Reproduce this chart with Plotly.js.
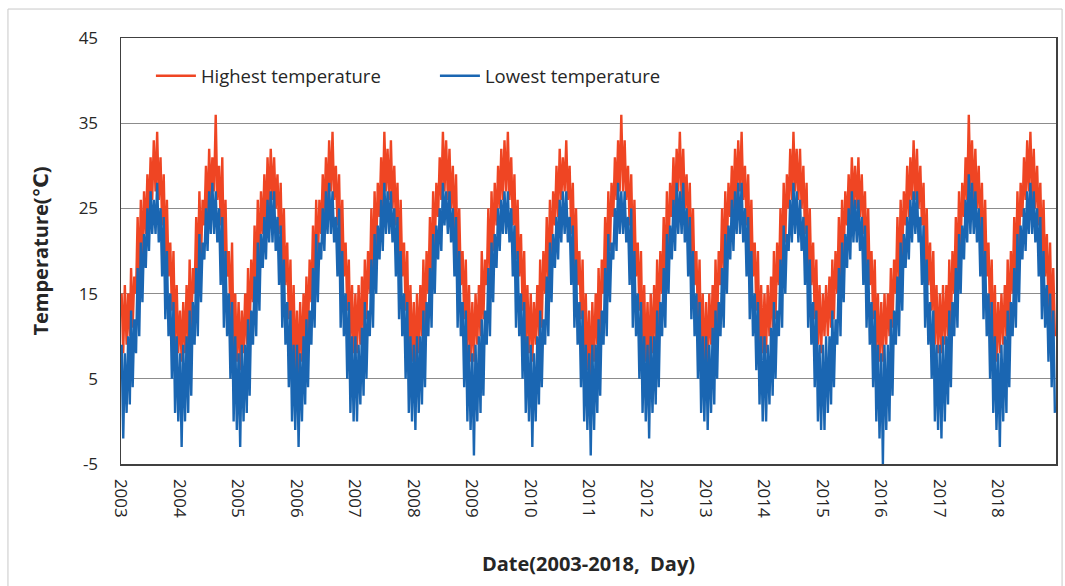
<!DOCTYPE html>
<html>
<head>
<meta charset="utf-8">
<script src="https://cdn.plot.ly/plotly-3.0.1.min.js"></script>
<style>html,body{margin:0;padding:0;background:#fff;}#chart{width:1065px;height:586px;}</style>
</head>
<body>
<div id="chart"></div>
<script>
// Years on the axis and sample days within each month (3 samples per month)
const years = [2003,2004,2005,2006,2007,2008,2009,2010,2011,2012,2013,2014,2015,2016,2017,2018];
const sampleDays = [5,15,25];
const tickYears = ["2003","2004","2005","2006","2007","2008","2009","2010","2011","2012","2013","2014","2015","2016","2017","2018"];

// Highest temperature (°C), 36 readings per year (Jan..Dec, 3 per month)
const high2003 = [15,8,16, 9,15,10, 18,11,17, 15,24,16, 26,19,27, 22,29,24, 31,26,33, 27,34,26, 31,23,29, 19,26,17, 21,13,20, 9,16,8];
const high2004 = [13,7,14, 8,16,9, 19,10,18, 15,24,17, 27,19,26, 23,30,24, 32,26,31, 27,36,26, 30,23,31, 18,26,17, 20,12,21, 8,15,7];
const high2005 = [14,6,13, 8,15,9, 18,10,19, 14,23,16, 26,18,27, 22,29,23, 31,25,32, 26,31,25, 29,22,28, 18,25,16, 21,12,19, 7,16,6];
const high2006 = [13,5,14, 7,15,9, 17,10,19, 14,23,16, 26,18,26, 22,29,24, 31,25,33, 27,34,26, 30,23,29, 19,26,17, 21,13,19, 9,16,8];
const high2007 = [15,8,16, 9,17,10, 19,12,20, 15,25,17, 27,20,28, 24,31,25, 34,27,32, 26,33,25, 30,23,28, 18,26,17, 21,13,20, 8,16,7];
const high2008 = [14,6,15, 8,16,10, 19,11,20, 15,24,17, 27,20,28, 24,31,26, 34,27,33, 26,32,25, 30,22,29, 18,25,16, 20,12,19, 8,16,7];
const high2009 = [14,7,15, 9,16,10, 20,12,19, 16,25,17, 27,20,28, 23,30,25, 32,26,33, 27,34,26, 31,23,29, 19,26,17, 22,13,20, 9,16,8];
const high2010 = [15,7,14, 9,16,10, 19,11,20, 15,24,16, 26,19,27, 23,30,24, 32,26,31, 27,33,26, 30,22,28, 18,25,16, 20,12,19, 7,15,6];
const high2011 = [13,4,14, 7,15,9, 18,10,19, 15,24,17, 27,20,28, 24,31,26, 33,27,36, 27,33,26, 30,23,29, 19,26,17, 21,13,20, 8,16,7];
const high2012 = [14,6,15, 8,16,9, 19,11,20, 15,24,16, 27,19,28, 24,31,25, 32,27,34, 26,32,25, 29,22,28, 18,25,16, 20,12,19, 7,15,6];
const high2013 = [14,6,15, 9,16,10, 19,11,20, 16,25,17, 27,20,28, 24,30,25, 32,26,33, 27,34,26, 30,23,29, 19,26,17, 21,13,20, 8,16,8];
const high2014 = [15,8,16, 10,17,11, 20,12,21, 16,25,18, 28,21,29, 25,32,26, 34,27,32, 26,32,25, 30,22,28, 18,25,16, 21,12,19, 9,16,8];
const high2015 = [15,10,16, 10,17,11, 19,12,20, 15,24,17, 26,19,27, 23,29,24, 31,25,30, 25,31,24, 29,22,27, 18,25,16, 20,12,19, 8,15,7];
const high2016 = [14,7,15, 9,15,10, 18,11,19, 15,24,16, 26,19,27, 23,30,24, 31,26,33, 26,32,25, 30,23,28, 18,25,16, 21,13,20, 9,16,8];
const high2017 = [15,8,16, 9,16,10, 19,11,20, 15,24,17, 27,20,28, 24,31,26, 36,27,33, 26,32,25, 30,22,28, 18,26,17, 21,12,19, 8,16,7];
const high2018 = [14,8,15, 9,16,10, 19,11,20, 15,24,17, 27,20,28, 24,31,26, 33,27,34, 26,32,25, 30,23,28, 19,26,17, 22,13,21, 11,18,10];

// Lowest temperature (°C), 36 readings per year (Jan..Dec, 3 per month)
const low2003 = [9,-2,8, 1,10,2, 13,4,12, 8,18,10, 21,14,22, 18,25,20, 27,22,26, 22,28,21, 25,17,24, 12,20,10, 15,5,14, 1,10,0];
const low2004 = [8,-3,9, 0,10,1, 13,3,14, 9,18,10, 22,14,21, 19,25,20, 27,22,28, 22,27,21, 25,16,24, 11,20,10, 15,5,14, 0,10,-1];
const low2005 = [8,-3,9, 0,9,1, 12,3,13, 9,17,10, 21,13,22, 18,24,19, 26,21,27, 21,27,20, 24,16,23, 11,19,9, 14,4,13, 0,9,-1];
const low2006 = [9,-3,8, 0,10,2, 12,4,13, 9,18,11, 22,14,21, 19,25,20, 27,22,28, 22,27,21, 24,17,25, 11,20,10, 15,5,14, 1,10,0];
const low2007 = [10,0,9, 2,11,3, 14,5,13, 10,19,11, 22,15,23, 19,26,20, 28,22,27, 22,27,21, 25,17,24, 12,20,10, 15,5,14, 1,10,0];
const low2008 = [9,-1,10, 1,10,2, 13,4,14, 10,18,11, 22,15,23, 19,25,20, 28,23,27, 22,27,21, 25,17,24, 11,20,10, 14,4,13, 0,9,-1];
const low2009 = [8,-4,9, 0,10,1, 12,3,13, 9,18,10, 21,14,22, 18,25,20, 26,22,27, 22,27,21, 25,17,23, 11,20,10, 15,5,14, 1,10,0];
const low2010 = [9,-3,8, 0,10,2, 13,4,12, 9,17,10, 21,14,22, 18,24,19, 26,21,27, 22,27,21, 24,16,23, 11,19,9, 14,4,13, 0,9,-1];
const low2011 = [8,-4,9, -1,9,1, 12,3,13, 9,18,10, 22,14,21, 19,25,20, 28,22,27, 22,27,21, 24,16,25, 11,20,10, 15,5,14, 1,10,0];
const low2012 = [9,-2,10, 1,10,2, 13,4,14, 10,18,11, 22,15,23, 19,26,20, 28,22,27, 22,28,21, 25,17,24, 12,20,10, 15,5,14, 1,10,0];
const low2013 = [10,-1,9, 1,11,2, 13,5,14, 10,18,11, 22,15,23, 19,26,20, 27,22,28, 22,28,21, 25,17,24, 12,20,10, 15,6,14, 2,10,0];
const low2014 = [10,0,9, 2,11,3, 14,5,13, 10,19,11, 23,15,22, 20,26,21, 28,22,27, 21,26,20, 24,16,23, 11,19,9, 14,4,13, 0,9,-1];
const low2015 = [9,-1,10, 1,10,2, 13,4,12, 9,18,10, 21,14,22, 18,25,19, 27,21,26, 21,26,20, 24,16,23, 11,19,9, 14,4,13, 0,9,-2];
const low2016 = [8,-5,9, -1,9,0, 12,3,13, 9,17,10, 21,13,22, 18,24,19, 26,21,27, 22,27,21, 24,16,23, 11,19,9, 14,5,13, 0,9,-1];
const low2017 = [9,-2,10, 0,10,2, 13,4,14, 10,18,11, 22,15,23, 19,26,21, 29,22,28, 22,27,21, 25,17,24, 12,20,10, 15,5,14, 1,10,-1];
const low2018 = [8,-3,9, 0,10,1, 13,4,14, 10,18,11, 22,14,23, 19,25,20, 27,22,28, 22,27,21, 25,17,24, 12,20,11, 16,7,15, 4,13,1];

const highByYear = [high2003,high2004,high2005,high2006,high2007,high2008,high2009,high2010,high2011,high2012,high2013,high2014,high2015,high2016,high2017,high2018];
const lowByYear = [low2003,low2004,low2005,low2006,low2007,low2008,low2009,low2010,low2011,low2012,low2013,low2014,low2015,low2016,low2017,low2018];

const dates = [], highVals = [], lowVals = [];
years.forEach((yr, yi) => {
  for (let m = 1; m <= 12; m++) {
    sampleDays.forEach((d, di) => {
      const idx = (m - 1) * 3 + di;
      dates.push(yr + '-' + String(m).padStart(2,'0') + '-' + String(d).padStart(2,'0'));
      highVals.push(highByYear[yi][idx]);
      lowVals.push(lowByYear[yi][idx]);
    });
  }
});

const FONT = '"Open Sans", Lato, "DejaVu Sans", sans-serif';

const traces = [
  {x: dates, y: highVals, type: 'scatter', mode: 'lines', name: 'Highest temperature',
   line: {color: '#EF4523', width: 2.4}},
  {x: dates, y: lowVals, type: 'scatter', mode: 'lines', name: 'Lowest temperature',
   line: {color: '#1A66B2', width: 2.4}}
];

const layout = {
  width: 1065, height: 586,
  margin: {l: 121, r: 9, t: 38, b: 122},
  paper_bgcolor: '#ffffff', plot_bgcolor: '#ffffff',
  font: {family: FONT, size: 17, color: '#262626'},
  showlegend: true,
  legend: {orientation: 'h', x: 0.032, y: 0.955, xanchor: 'left', yanchor: 'top',
           bgcolor: 'rgba(0,0,0,0)', font: {size: 18.5, color: '#262626', family: FONT},
           entrywidth: 229, itemwidth: 40},
  xaxis: {
    type: 'date',
    range: ['2003-01-01', '2019-01-01'],
    tickmode: 'array',
    tickvals: tickYears.map(y => y + '-01-01'),
    ticktext: tickYears,
    tickangle: 90,
    ticks: '',
    showgrid: false,
    zeroline: false,
    showline: true, mirror: true, linecolor: '#404040', linewidth: 1.5,
    tickfont: {size: 17, color: '#262626', family: FONT},
    ticklabelstandoff: 10,
    title: {text: '<b>Date(2003-2018,  Day)</b>', font: {size: 20, color: '#262626', family: FONT}, standoff: 40}
  },
  yaxis: {
    range: [-5, 45],
    tickmode: 'array',
    tickvals: [-5, 5, 15, 25, 35, 45],
    ticktext: ['-5', '5', '15', '25', '35', '45'],
    ticks: '',
    showgrid: true, gridcolor: '#8c8c8c', gridwidth: 1.3,
    zeroline: false,
    showline: true, mirror: true, linecolor: '#404040', linewidth: 1.5,
    tickfont: {size: 17, color: '#262626', family: FONT},
    ticklabelstandoff: 18,
    title: {text: '<b>Temperature(℃)</b>', font: {size: 20, color: '#262626', family: FONT}, standoff: 24}
  },
  shapes: [
    {type: 'rect', xref: 'paper', yref: 'paper',
     x0: -0.1209, x1: 1.0065, y0: -0.3, y1: 1.068,
     line: {color: '#c8c8c8', width: 1}, fillcolor: 'rgba(0,0,0,0)', layer: 'below'}
  ]
};

Plotly.newPlot('chart', traces, layout, {displayModeBar: false, staticPlot: true});
</script>
</body>
</html>
